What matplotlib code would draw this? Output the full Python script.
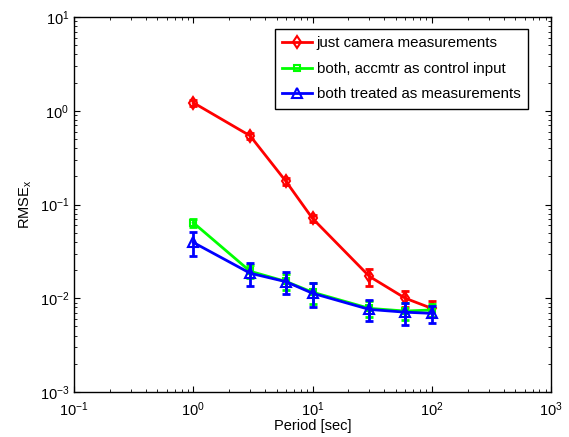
import matplotlib
matplotlib.use('Agg')
import matplotlib.pyplot as plt
import numpy as np

plt.rcParams['font.family'] = ['Liberation Sans', 'DejaVu Sans']
plt.rcParams['mathtext.default'] = 'regular'
plt.rcParams['font.size'] = 10.5

period = [1, 3, 6, 10, 30, 60, 100]

cam = [1.22, 0.54, 0.176, 0.071, 0.0171, 0.0100, 0.0078]
cam_err = [0.09, 0.04, 0.015, 0.006, 0.0035, 0.002, 0.0015]

ctrl = [0.064, 0.0194, 0.0151, 0.0116, 0.0078, 0.0073, 0.0075]
ctrl_err = [0.006, 0.003, 0.003, 0.003, 0.0015, 0.0015, 0.0012]

meas = [0.0394, 0.0185, 0.0150, 0.0113, 0.0076, 0.0071, 0.0069]
meas_err = [0.011, 0.005, 0.004, 0.0033, 0.0019, 0.0019, 0.0014]

labels = ['just camera measurements', 'both, accmtr as control input',
          'both treated as measurements']

fig = plt.figure(figsize=(5.69, 4.37), dpi=100)
ax = fig.add_axes([74 / 569, 45 / 437, 477 / 569, 375 / 437])

series = [(cam, cam_err, '#ff0000', 'd', 6),
          (ctrl, ctrl_err, '#00ff00', 's', 5),
          (meas, meas_err, '#0000ff', '^', 7)]
for (vals, errs, col, mk, ms), lab in zip(series, labels):
    ax.errorbar(period, vals, yerr=errs, fmt='none', ecolor=col,
                elinewidth=2, capsize=3, capthick=2)
    ax.plot(period, vals, color=col, marker=mk, mfc='none', mew=1.5,
            ms=ms, lw=2, label=lab)

ax.set_xscale('log')
ax.set_yscale('log')
ax.set_xlim(0.1, 1000)
ax.set_ylim(1e-3, 10)
ax.tick_params(which='both', direction='in', top=True, right=True)
ax.tick_params(which='major', length=4)
ax.tick_params(which='minor', length=2)
ax.tick_params(axis='x', pad=6)
for s in ax.spines.values():
    s.set_linewidth(1)

ax.set_xlabel('Period [sec]', labelpad=0)
ax.set_ylabel('RMSE$_x$')

leg = ax.legend(loc='upper right', bbox_to_anchor=(0.952, 0.968), fancybox=False,
                edgecolor='black', framealpha=1, handlelength=2.0, borderpad=0.5,
                labelspacing=0.75, handletextpad=0.3, fontsize=10.8,
                borderaxespad=0)
leg.get_frame().set_linewidth(1)

fig.savefig('out.png', dpi=100)
